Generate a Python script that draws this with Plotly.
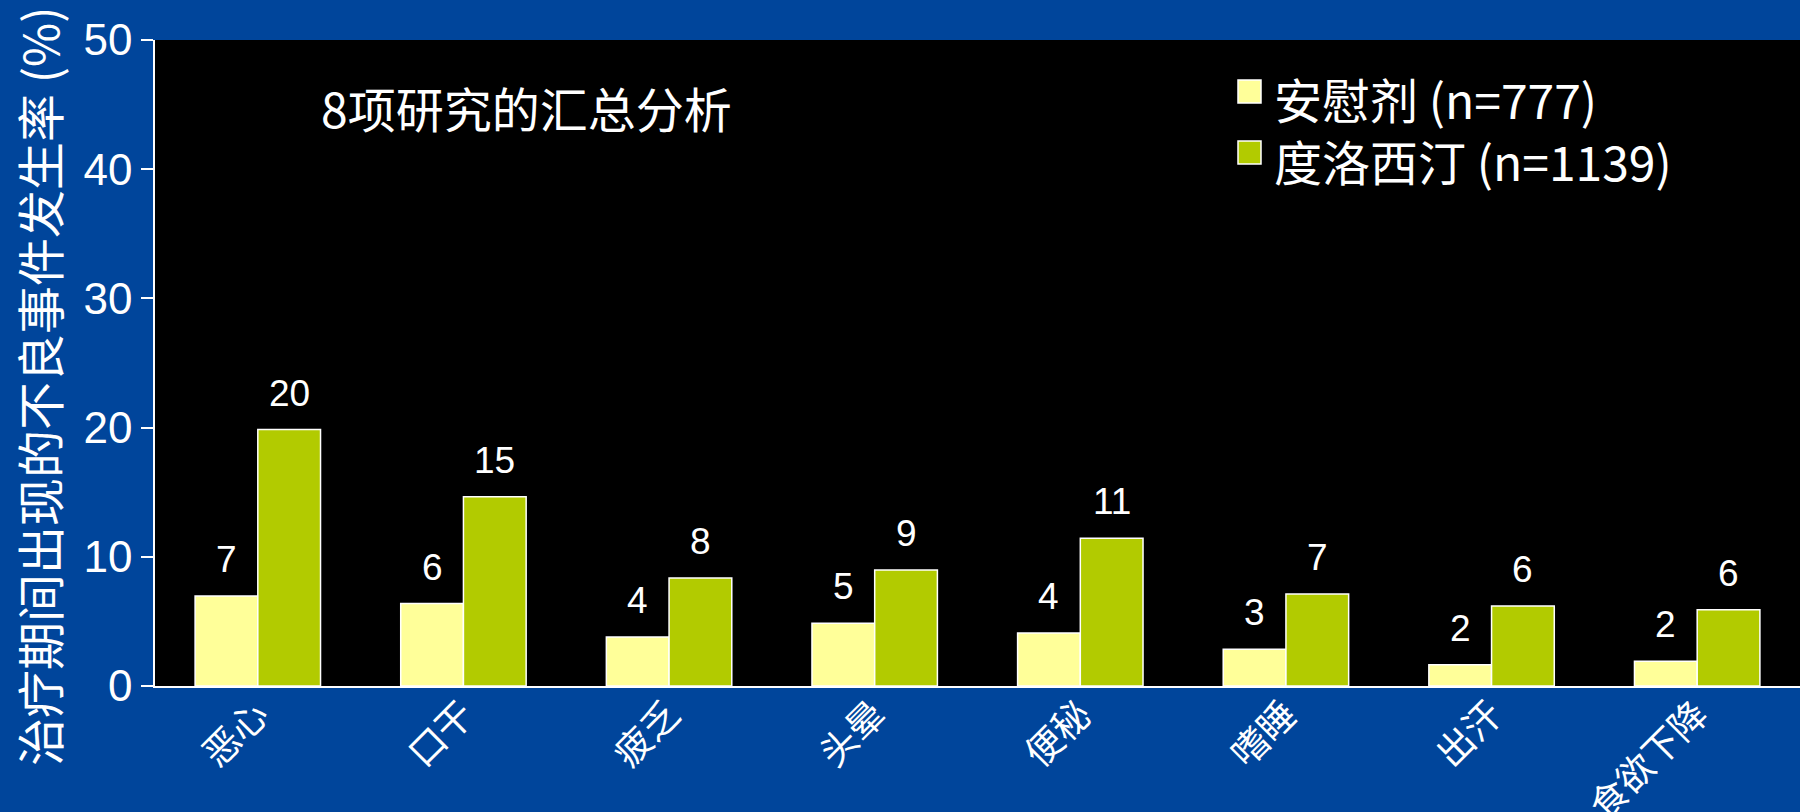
import plotly.graph_objects as go

# Adverse event categories and incidence (%) for each arm
categories = ["恶心", "口干", "疲乏", "头晕", "便秘", "嗜睡", "出汗", "食欲下降"]
placebo = [6.97, 6.38, 3.79, 4.85, 4.1, 2.85, 1.64, 1.92]
desvenlafaxine = [19.85, 14.64, 8.35, 8.97, 11.43, 7.12, 6.2, 5.9]
placebo_name = "安慰剂 (n=777)"
drug_name = "度洛西汀 (n=1139)"
y_ticks = [0, 10, 20, 30, 40, 50]

W, H = 1800, 812
M_L, M_R, M_T, M_B = 155, 0, 40, 126
BG = "#00459B"
YELLOW = "#FFFF99"
GREEN = "#B2CB00"
CJK = "Noto Sans CJK SC, Liberation Sans, Arial, sans-serif"
NUM = "Liberation Sans, Arial, Noto Sans CJK SC, sans-serif"


def px_x(px):
    """Page pixel column -> paper x."""
    return (px - M_L) / (W - M_L - M_R)


def px_y(py):
    """Page pixel row -> paper y."""
    return (H - M_B - py) / (H - M_T - M_B)


fig = go.Figure()
fig.add_trace(go.Bar(
    x=categories, y=placebo, name=placebo_name, showlegend=False,
    marker=dict(color=YELLOW, line=dict(color="white", width=1.5)),
))
fig.add_trace(go.Bar(
    x=categories, y=desvenlafaxine, name=drug_name, showlegend=False,
    marker=dict(color=GREEN, line=dict(color="white", width=1.5)),
))

# value labels above each bar, rounded to whole percent
half = 0.61 / 4
for i, (p, d) in enumerate(zip(placebo, desvenlafaxine)):
    for xv, yv in ((i - half, p), (i + half, d)):
        fig.add_annotation(
            x=xv, y=yv, text=str(round(yv)), showarrow=False,
            xref="x", yref="y", yanchor="bottom", yshift=14,
            font=dict(family=NUM, size=37, color="white"),
        )

# panel heading
fig.add_annotation(
    text="8项研究的汇总分析", xref="paper", yref="paper",
    x=px_x(319), y=px_y(107), xanchor="left", yanchor="middle", showarrow=False,
    font=dict(family=CJK, size=48, color="white"),
)
# y-axis title
fig.add_annotation(
    text="治疗期间出现的不良事件发生率 (%)", xref="paper", yref="paper",
    x=px_x(38), y=px_y(387), xanchor="center", yanchor="middle", textangle=-90,
    showarrow=False, font=dict(family=CJK, size=48, color="white"),
)

# legend: colour swatches plus a two-line block of series names
for color, sq_top in ((YELLOW, 80), (GREEN, 141)):
    fig.add_shape(
        type="rect", xref="paper", yref="paper",
        x0=px_x(1238), x1=px_x(1261), y0=px_y(sq_top + 23), y1=px_y(sq_top),
        fillcolor=color, line=dict(color="white", width=1.5),
    )
fig.add_annotation(
    text=placebo_name + "<br>" + drug_name, xref="paper", yref="paper",
    x=px_x(1272), y=px_y(129), xanchor="left", yanchor="middle", align="left",
    showarrow=False, font=dict(family=CJK, size=48, color="white"),
)

fig.update_layout(
    width=W, height=H,
    margin=dict(l=M_L, r=M_R, t=M_T, b=M_B),
    paper_bgcolor=BG, plot_bgcolor="black",
    barmode="group", bargap=0.39, bargroupgap=0,
    showlegend=False,
    xaxis=dict(
        range=[-0.5, 7.5], tickangle=-45, showgrid=False, ticks="",
        showline=True, linecolor="white", linewidth=2, automargin=False,
        ticklabelstandoff=-10,
        tickfont=dict(family=CJK, size=37, color="white"),
    ),
    yaxis=dict(
        range=[0, 50], tickvals=y_ticks, showgrid=False, zeroline=False,
        ticks="outside", ticklen=12, tickcolor="white", tickwidth=1.5,
        showline=True, linecolor="white", linewidth=1.5, automargin=False,
        tickfont=dict(family=NUM, size=44, color="white"),
    ),
)

fig.write_html("out.html")
